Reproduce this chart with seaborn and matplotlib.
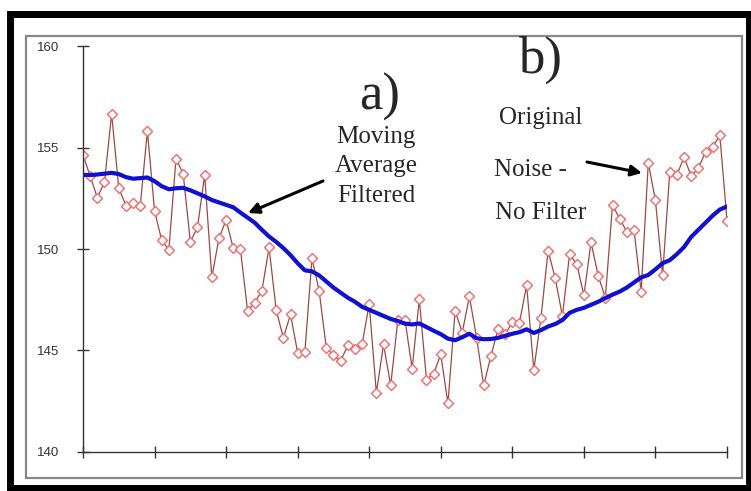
import matplotlib
matplotlib.use("Agg")
import matplotlib.pyplot as plt
import seaborn as sns
import numpy as np
import pandas as pd
from matplotlib.patches import Rectangle, FancyArrowPatch

# noisy original samples
noise = [154.65, 153.6, 152.54, 153.3, 156.68, 153.0, 152.14, 152.28, 152.14, 155.83,
         151.88, 150.43, 149.97, 154.46, 153.71, 150.36, 151.07, 153.66, 148.6, 150.53,
         151.44, 150.03, 150.0, 146.95, 147.36, 147.94, 150.08, 146.99, 145.62, 146.78,
         144.88, 144.9, 149.54, 147.94, 145.13, 144.75, 144.47, 145.25, 145.08, 145.3,
         147.28, 142.9, 145.3, 143.27, 146.5, 146.5, 144.1, 147.52, 143.56, 143.85,
         144.8, 142.38, 146.95, 145.88, 147.66, 145.63, 143.27, 144.72, 146.04, 145.79,
         146.4, 146.37, 148.22, 144.03, 146.6, 149.92, 148.55, 146.7, 149.75, 149.26,
         147.72, 150.33, 148.68, 147.6, 152.18, 151.49, 150.86, 150.96, 147.89, 154.26,
         152.4, 148.71, 153.8, 153.66, 154.54, 153.6, 154.0, 154.79, 155.03, 155.61,
         151.4]

# moving average curve
moving_avg = [153.66, 153.65, 153.68, 153.72, 153.76, 153.7, 153.55, 153.47, 153.5, 153.53,
              153.35, 153.1, 152.95, 153.0, 153.02, 152.9, 152.75, 152.6, 152.42, 152.3,
              152.18, 152.06, 151.8, 151.55, 151.3, 150.95, 150.62, 150.35, 150.05, 149.7,
              149.3, 148.95, 148.9, 148.7, 148.4, 148.1, 147.85, 147.6, 147.4, 147.15,
              147.0, 146.85, 146.7, 146.55, 146.45, 146.32, 146.28, 146.33, 146.15, 145.97,
              145.8, 145.58, 145.5, 145.65, 145.82, 145.6, 145.55, 145.56, 145.62, 145.72,
              145.82, 145.9, 146.04, 145.86, 146.0, 146.18, 146.3, 146.5, 146.85, 147.0,
              147.1, 147.25, 147.4, 147.58, 147.75, 147.9, 148.1, 148.35, 148.6, 148.72,
              149.0, 149.3, 149.45, 149.75, 150.1, 150.6, 150.95, 151.3, 151.65, 151.95,
              152.1]

y_ticks = [140, 145, 150, 155, 160]
x_ticks = list(range(0, 91, 10))

df = pd.DataFrame({"i": np.arange(len(noise)), "noise": noise, "avg": moving_avg})

sns.set_theme(style="white")
plt.rcParams['font.family'] = ['Liberation Sans', 'DejaVu Sans']

W, H = 751, 491
fig = plt.figure(figsize=(W / 100, H / 100), dpi=100)
fig.patch.set_facecolor("white")

def fp(x, y):
    # pixel position (from top-left) -> figure fraction
    return (x / W, 1 - y / H)

ax = fig.add_axes([83 / W, 1 - 451.7 / H, 644 / W, 405.3 / H])
ax.set_facecolor("white")

sns.lineplot(data=df, x="i", y="noise", ax=ax, color="#9a4a44", linewidth=0.9,
             marker="D", markersize=5.5, markerfacecolor="white",
             markeredgecolor="#f06a6a", markeredgewidth=1.0)
sns.lineplot(data=df, x="i", y="avg", ax=ax, color="#1010d0", linewidth=3.0)

ax.set_xlim(0, 90)
ax.set_ylim(140, 160)
ax.set_xticks(x_ticks)
ax.set_xticklabels([])
ax.set_yticks(y_ticks)
ax.set_xlabel("")
ax.set_ylabel("")
for s in ["top", "right"]:
    ax.spines[s].set_visible(False)
for s in ["left", "bottom"]:
    ax.spines[s].set_color("#333333")
    ax.spines[s].set_linewidth(1.0)
ax.tick_params(axis="both", direction="inout", length=8, width=1, color="#333333",
               labelsize=9.5, labelcolor="#333333", left=True, bottom=True)
ax.tick_params(axis="y", pad=13)
ax.grid(False)

# frames
fig.patches.append(Rectangle(fp(10, 488), 739 / W, 474 / H, transform=fig.transFigure,
                             fill=False, edgecolor="black", linewidth=5))
fig.patches.append(Rectangle(fp(26, 478), 716 / W, 442 / H, transform=fig.transFigure,
                             fill=False, edgecolor="#888888", linewidth=1.6))

serif = ['Liberation Serif', 'DejaVu Serif']
fig.text(*fp(380, 97), "a)", fontsize=38, family=serif, ha="center", va="center")
fig.text(*fp(540, 60), "b)", fontsize=38, family=serif, ha="center", va="center")

fig.text(*fp(376, 137), "Moving", fontsize=18, family=serif, ha="center", va="center")
fig.text(*fp(376, 166), "Average", fontsize=18, family=serif, ha="center", va="center")
fig.text(*fp(376, 196), "Filtered", fontsize=18, family=serif, ha="center", va="center")

fig.text(*fp(541, 118), "Original", fontsize=18, family=serif, ha="center", va="center")
fig.text(*fp(530, 170), "Noise -", fontsize=18, family=serif, ha="center", va="center")
fig.text(*fp(541, 213), "No Filter", fontsize=18, family=serif, ha="center", va="center")

arrow = dict(arrowstyle="-|>", color="black", lw=2.2, mutation_scale=16, shrinkA=0, shrinkB=0)
fig.add_artist(FancyArrowPatch(fp(323, 181), fp(248, 213), transform=fig.transFigure, **arrow))
fig.add_artist(FancyArrowPatch(fp(587, 162), fp(642, 173), transform=fig.transFigure, **arrow))

fig.savefig("out.png", dpi=100)
